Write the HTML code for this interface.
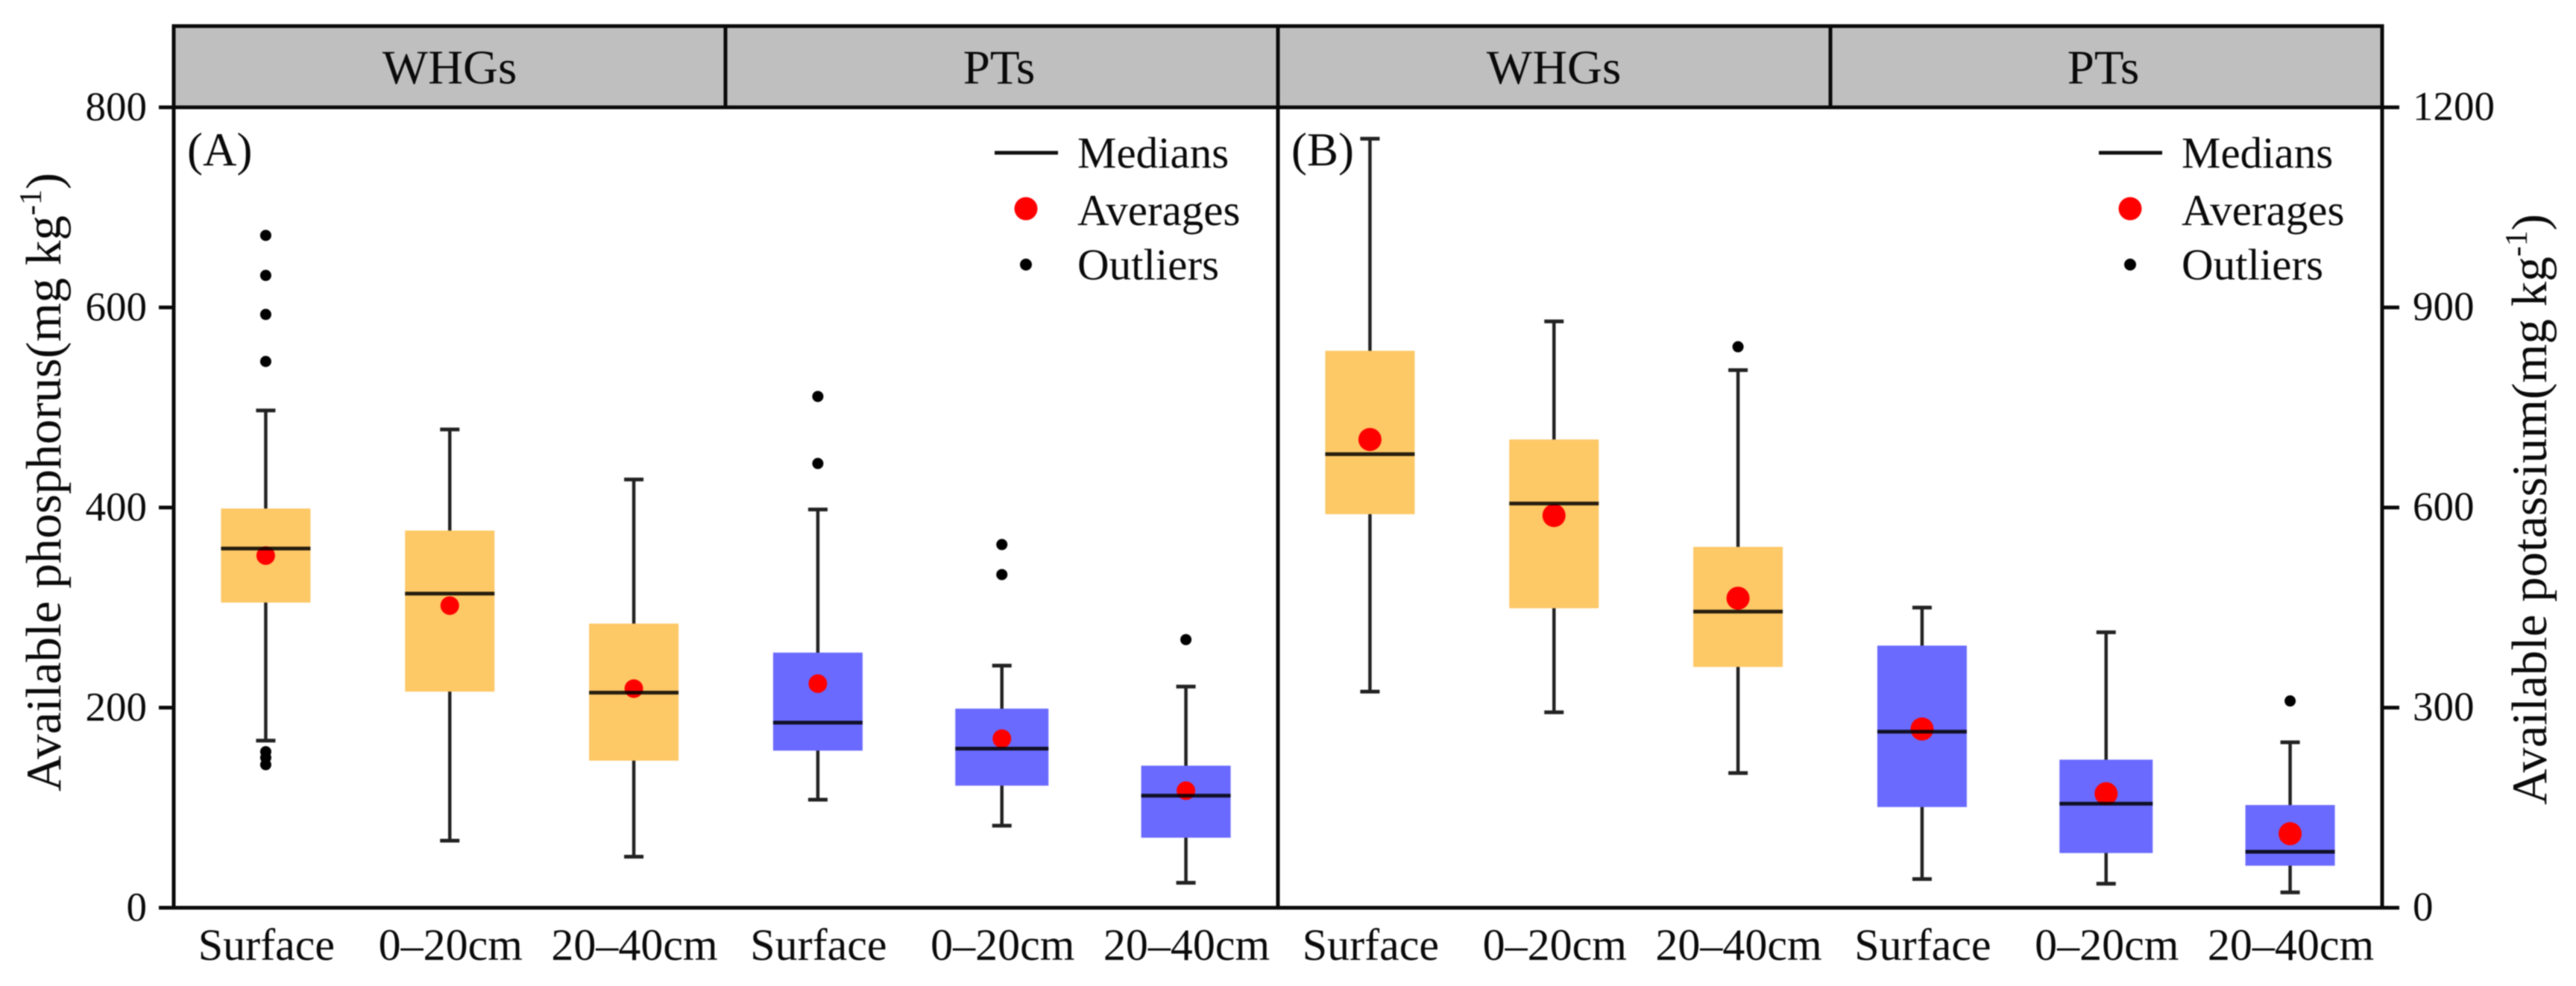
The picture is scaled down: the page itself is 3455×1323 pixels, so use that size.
<!DOCTYPE html>
<html lang="en">
<head>
<meta charset="utf-8">
<title>Available phosphorus and potassium box plots</title>
<style>
html,body{margin:0;padding:0;background:#fff;}
svg{display:block;filter:blur(0.7px);}
text{font-family:"Liberation Serif",serif;fill:#0a0a0a;}
.tick{font-size:55px;}
.cat{font-size:60px;text-anchor:middle;}
.strip{font-size:65px;text-anchor:middle;}
.leg{font-size:59px;}
.panel{font-size:63px;}
.title{font-size:67px;}
</style>
</head>
<body>
<svg id="chart" xmlns="http://www.w3.org/2000/svg" width="3455" height="1323" viewBox="0 0 3455 1323">
  <rect x="0" y="0" width="3455" height="1323" fill="#fff"/>
  <rect x="233" y="35" width="2962" height="109" fill="#bfbfbf"/>
  <g id="marks"></g>
  <g id="axes" stroke="#0a0a0a" stroke-width="5" fill="none">
    <rect x="233" y="35" width="2962" height="1183"/>
    <line x1="233" y1="144" x2="3195" y2="144"/>
    <line x1="1714" y1="35" x2="1714" y2="1218"/>
    <line x1="973" y1="35" x2="973" y2="144"/>
    <line x1="2455" y1="35" x2="2455" y2="144"/>
  </g>
  <g id="labels"></g>
  <text class="strip" x="603" y="112">WHGs</text>
  <text class="strip" x="1340" y="112">PTs</text>
  <text class="strip" x="2084" y="112">WHGs</text>
  <text class="strip" x="2821" y="112">PTs</text>
  <text class="panel" x="251" y="222">(A)</text>
  <text class="panel" x="1732" y="222">(B)</text>

  <g>
    <line x1="1334" y1="205" x2="1419" y2="205" stroke="#111" stroke-width="5"/>
    <ellipse cx="1376" cy="280" rx="15.5" ry="15.5" fill="#ff0000"/>
    <ellipse cx="1376" cy="355" rx="8" ry="8" fill="#000"/>
    <text class="leg" x="1445" y="225">Medians</text>
    <text class="leg" x="1445" y="302">Averages</text>
    <text class="leg" x="1445" y="375">Outliers</text>
  </g>
  <g>
    <line x1="2815" y1="205" x2="2900" y2="205" stroke="#111" stroke-width="5"/>
    <ellipse cx="2857" cy="280" rx="15.5" ry="15.5" fill="#ff0000"/>
    <ellipse cx="2857" cy="355" rx="8" ry="8" fill="#000"/>
    <text class="leg" x="2926" y="225">Medians</text>
    <text class="leg" x="2926" y="302">Averages</text>
    <text class="leg" x="2926" y="375">Outliers</text>
  </g>

  <text class="title" transform="translate(81,1062) rotate(-90)">Available phosphorus(mg kg<tspan font-size="42" dy="-26">-1</tspan><tspan dy="26">)</tspan></text>
  <text class="title" transform="translate(3415,1080) rotate(-90)">Available potassium(mg kg<tspan font-size="42" dy="-26">-1</tspan><tspan dy="26">)</tspan></text>
</svg>
<script>
// ---- data ----
const categories = ["Surface", "0\u201320cm", "20\u201340cm", "Surface", "0\u201320cm", "20\u201340cm"];
const groupColors = ["#fdc866", "#fdc866", "#fdc866", "#6a6aff", "#6a6aff", "#6a6aff"];

const leftTicks = [0, 200, 400, 600, 800];
const rightTicks = [0, 300, 600, 900, 1200];

const phosWhiskerHigh = [497, 478, 428, 398, 242, 221];
const phosQ3 = [399, 377, 284, 255, 199, 142];
const phosMedian = [359, 314, 215, 185, 159, 112];
const phosQ1 = [305, 216, 147, 157, 122, 70];
const phosWhiskerLow = [167, 67, 51, 108, 82, 25];
const phosMean = [352, 302, 219, 224, 169, 117];
const phosOutliers = [[672, 632, 593, 546, 156, 150, 143], [], [], [511, 444], [363, 333], [268]];

const potaWhiskerHigh = [1153, 879, 806, 450, 413, 248];
const potaQ3 = [835, 702, 541, 393, 222, 154];
const potaMedian = [680, 606, 444, 264, 156, 84];
const potaQ1 = [590, 449, 361, 151, 82, 63];
const potaWhiskerLow = [324, 293, 202, 43, 36, 23];
const potaMean = [702, 588, 464, 268, 171, 111];
const potaOutliers = [[], [], [841], [], [], [310]];

// ---- axis functions ----
const SVG_NS = "http://www.w3.org/2000/svg";
const axisBottom = 1218, axisTop = 144;
const panelWidth = 1481, bandWidth = panelWidth / 6;
const yPhos = v => axisBottom - (v / 800) * (axisBottom - axisTop);
const yPota = v => axisBottom - (v / 1200) * (axisBottom - axisTop);
const xBand = (panelLeft, i) => panelLeft + bandWidth * (i + 0.5);
const boxWidth = i => (i === 4 ? 125 : 120);

const marks = document.getElementById("marks");
const labels = document.getElementById("labels");
const axes = document.getElementById("axes");

function make(tag, attrs, parent) {
  const el = document.createElementNS(SVG_NS, tag);
  for (const k in attrs) el.setAttribute(k, attrs[k]);
  parent.appendChild(el);
  return el;
}

function drawPanel(panelLeft, y, key, high, q3, med, q1, low, mean, outliers, meanR) {
  categories.forEach((c, i) => {
    const cx = xBand(panelLeft, i);
    const w = boxWidth(i);

    const whisker = make("line", {x1: cx, x2: cx, y1: y(high[i]), y2: y(low[i]), stroke: "#222", "stroke-width": 4.5}, marks);
    
    

    const capHigh = make("line", {x1: cx - 13, x2: cx + 13, y1: y(high[i]), y2: y(high[i]), stroke: "#222", "stroke-width": 5}, marks);
    
    

    const capLow = make("line", {x1: cx - 13, x2: cx + 13, y1: y(low[i]), y2: y(low[i]), stroke: "#222", "stroke-width": 5}, marks);
    
    

    const box = make("rect", {x: cx - w / 2, width: w, y: y(q3[i]), height: y(q1[i]) - y(q3[i]), fill: groupColors[i]}, marks);
    
    

    const avg = make("circle", {cx: cx, cy: y(mean[i]), r: meanR, fill: "#ff0000"}, marks);
    
    

    const median = make("line", {x1: cx - w / 2, x2: cx + w / 2, y1: y(med[i]), y2: y(med[i]), stroke: "#000", "stroke-opacity": 0.85, "stroke-width": 5}, marks);
    
    

    outliers[i].forEach(v => {
      const dot = make("circle", {cx: cx, cy: y(v), r: 7.5, fill: "#000"}, marks);
      
      
    });

    const cat = make("text", {x: cx + 1, y: 1288, "class": "cat"}, labels);
    cat.textContent = c;
    
    
  });
}

drawPanel(233, yPhos, "phosphorus", phosWhiskerHigh, phosQ3, phosMedian, phosQ1, phosWhiskerLow, phosMean, phosOutliers, 12.5);
drawPanel(1714, yPota, "potassium", potaWhiskerHigh, potaQ3, potaMedian, potaQ1, potaWhiskerLow, potaMean, potaOutliers, 15.5);

leftTicks.forEach(v => {
  const tick = make("line", {x1: 213, x2: 233, y1: yPhos(v), y2: yPhos(v)}, axes);
  
  
  const lab = make("text", {x: 197, y: yPhos(v) + 17.5, "class": "tick", "text-anchor": "end"}, labels);
  lab.textContent = v;
  
  
});

rightTicks.forEach(v => {
  const tick = make("line", {x1: 3195, x2: 3218, y1: yPota(v), y2: yPota(v)}, axes);
  
  
  const lab = make("text", {x: 3236, y: yPota(v) + 17, "class": "tick"}, labels);
  lab.textContent = v;
  
  
});
</script>
</body>
</html>
